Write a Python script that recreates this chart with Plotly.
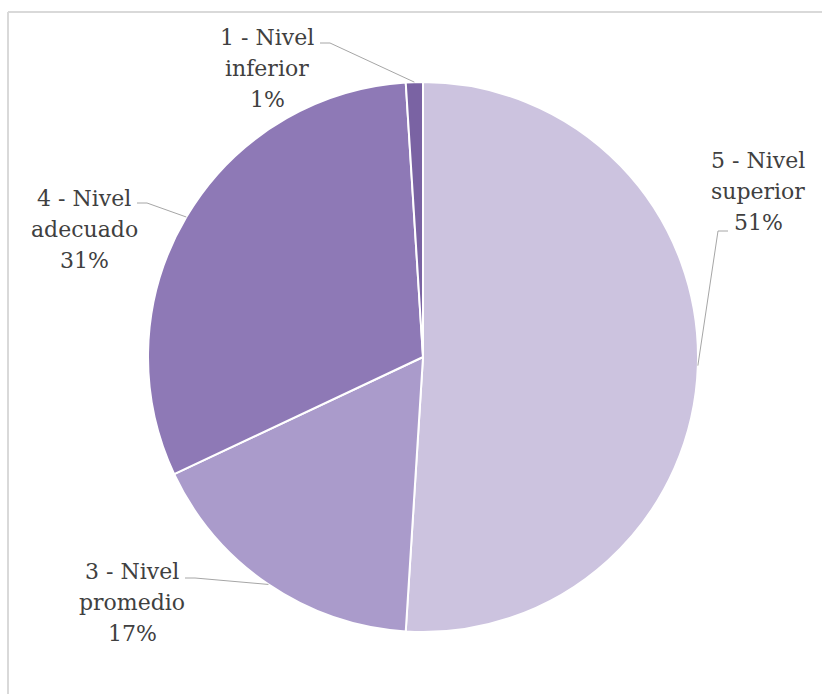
import math
import plotly.graph_objects as go

W, H = 823, 694

# Distribution of levels (percent), drawn clockwise from 12 o'clock
labels = ["5 - Nivel superior", "3 - Nivel promedio", "4 - Nivel adecuado", "1 - Nivel inferior"]
values = [51, 17, 31, 1]
colors = ["#CCC3DF", "#AA9BCB", "#8E79B6", "#7A63A3"]

# Label text lines shown beside each slice
label_lines = [
    ["5 - Nivel", "superior", "51%"],
    ["3 - Nivel", "promedio", "17%"],
    ["4 - Nivel", "adecuado", "31%"],
    ["1 - Nivel", "inferior", "1%"],
]

# Pie geometry in pixels
CX, CY, R = 423, 357, 275

# Label block placement (center x, first line y) and leader-line start (pixels)
label_pos = [(758, 160), (132, 571), (84, 198), (267, 38)]
leader_start = [(728, 231), (185, 578), (137, 203), (320, 43)]
LINE_STEP = 31
FONT = "DejaVu Serif"


def px(x):
    return x / W


def py(y):
    return 1 - y / H


fig = go.Figure(
    go.Pie(
        labels=labels,
        values=values,
        sort=False,
        direction="clockwise",
        rotation=0,
        marker=dict(colors=colors, line=dict(color="white", width=2)),
        textinfo="none",
        hoverinfo="label+percent",
        showlegend=False,
        domain=dict(x=[px(CX - R), px(CX + R)], y=[py(CY + R), py(CY - R)]),
    )
)

annotations = []
shapes = []
total = sum(values)
cum = 0
for i, v in enumerate(values):
    mid = (cum + v / 2) / total * 2 * math.pi
    cum += v
    ex = CX + R * math.sin(mid)
    ey = CY - R * math.cos(mid)
    sx, sy = leader_start[i]
    # short horizontal tick then a straight segment to the slice edge
    kx = sx + (10 if ex > sx else -10)
    path = f"M {px(sx)},{py(sy)} L {px(kx)},{py(sy)} L {px(ex)},{py(ey)}"
    shapes.append(dict(type="path", xref="paper", yref="paper", path=path,
                       line=dict(color="#A6A6A6", width=1)))
    lx, ly = label_pos[i]
    for j, t in enumerate(label_lines[i]):
        annotations.append(dict(
            x=px(lx), y=py(ly + j * LINE_STEP), xref="paper", yref="paper",
            text=t, showarrow=False, xanchor="center", yanchor="middle",
            font=dict(family=FONT, size=22, color="#404040"),
        ))

# Light frame along the top and left edges
shapes.append(dict(type="line", xref="paper", yref="paper",
                   x0=px(8), y0=py(12), x1=px(822), y1=py(12),
                   line=dict(color="#D9D9D9", width=2)))
shapes.append(dict(type="line", xref="paper", yref="paper",
                   x0=px(8), y0=py(12), x1=px(8), y1=0,
                   line=dict(color="#D9D9D9", width=2)))

fig.update_layout(
    width=W, height=H,
    margin=dict(l=0, r=0, t=0, b=0),
    paper_bgcolor="white", plot_bgcolor="white",
    font=dict(family=FONT),
    annotations=annotations, shapes=shapes,
)

fig.write_html("out.html")
